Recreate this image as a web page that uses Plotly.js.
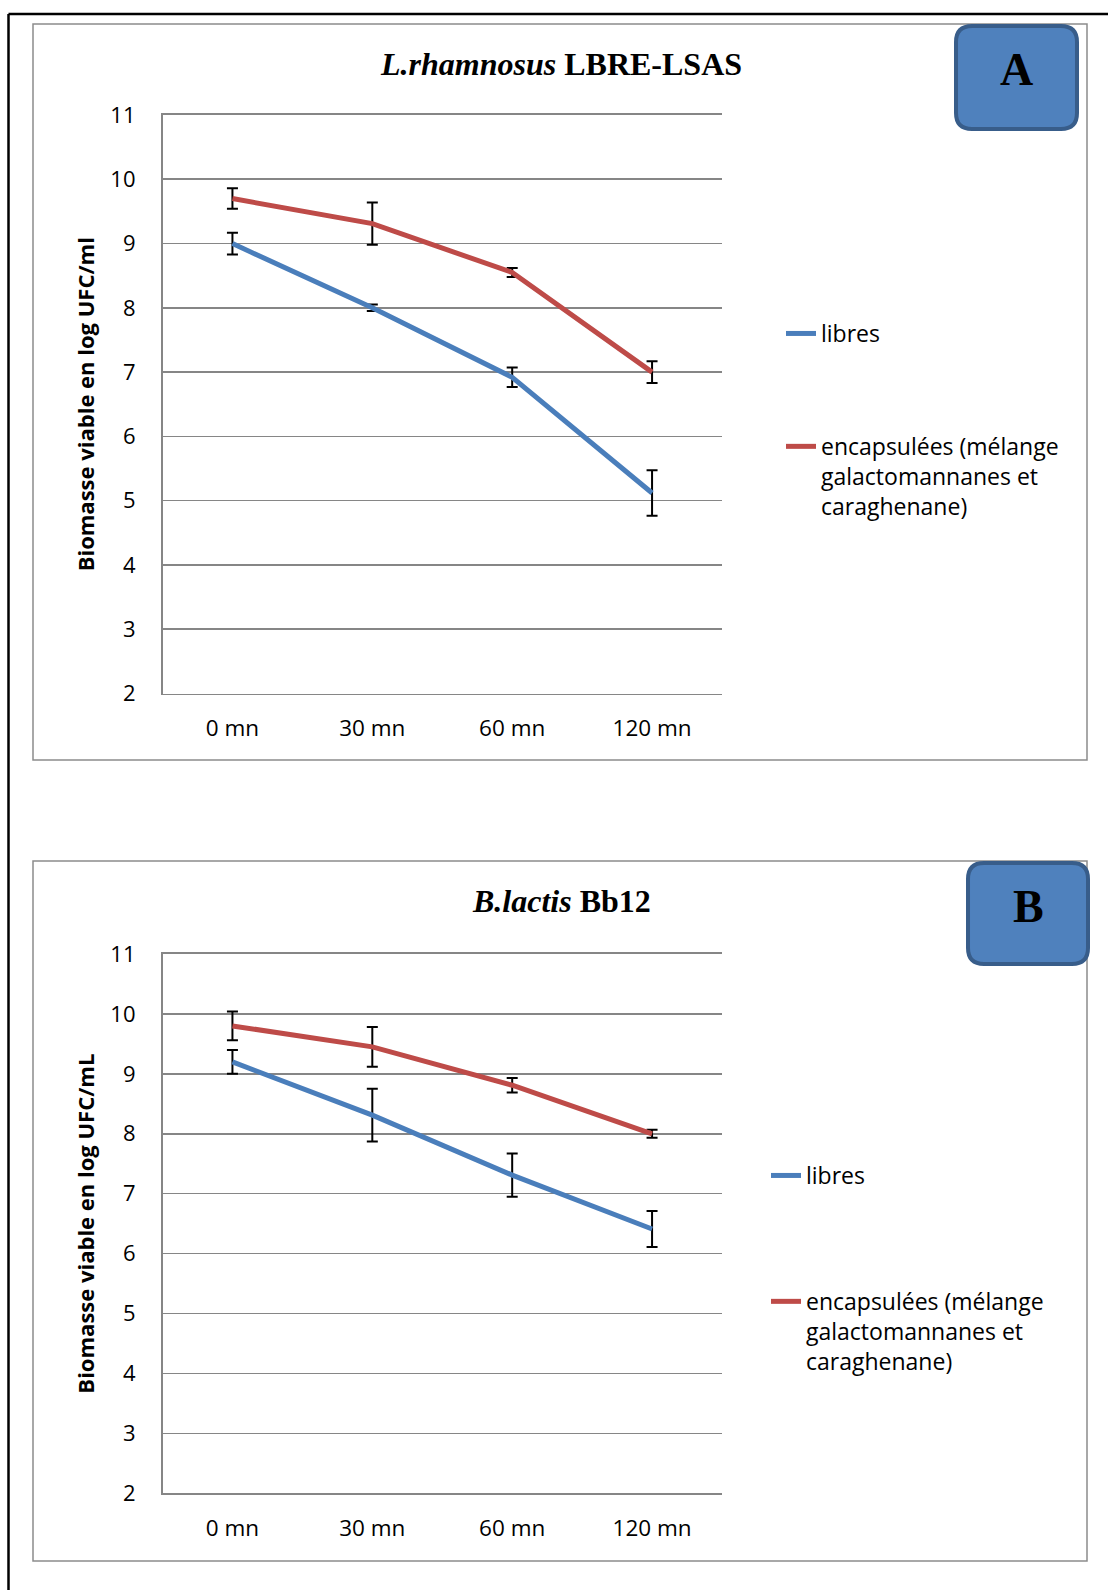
<!DOCTYPE html>
<html>
<head>
<meta charset="utf-8">
<script src="https://cdn.plot.ly/plotly-3.0.1.min.js"></script>
<style>
  html, body { margin: 0; padding: 0; background: #fff; }
  #chart { width: 1108px; height: 1590px; }
</style>
</head>
<body>
<div id="chart"></div>
<script>
// ---- data ----
const categories = ['0 mn', '30 mn', '60 mn', '120 mn'];
const yTicks = [2, 3, 4, 5, 6, 7, 8, 9, 10, 11];

const seriesNames = ['libres', 'encapsulées (mélange<br>galactomannanes et<br>caraghenane)'];

const rhamnosusLibres = [9.0, 8.0, 6.92, 5.12];
const rhamnosusLibresErr = [0.17, 0.05, 0.15, 0.355];
const rhamnosusEncaps = [9.70, 9.31, 8.55, 7.0];
const rhamnosusEncapsErr = [0.16, 0.33, 0.07, 0.17];

const lactisLibres = [9.20, 8.31, 7.31, 6.41];
const lactisLibresErr = [0.20, 0.44, 0.36, 0.30];
const lactisEncaps = [9.80, 9.45, 8.81, 8.0];
const lactisEncapsErr = [0.24, 0.33, 0.12, 0.065];

const titleA = '<i>L.rhamnosus</i> LBRE-LSAS';
const titleB = '<i>B.lactis</i> Bb12';
const yTitleA = 'Biomasse viable en log UFC/ml';
const yTitleB = 'Biomasse viable en log UFC/mL';

// ---- styling helpers ----
const W = 1108, H = 1590;
const px = x => x / W;
const py = y => 1 - y / H;
const BLUE = '#4A7EBB', RED = '#BE4B48', GRID = '#868686';
const SANS = '"Open Sans", "Noto Sans", sans-serif';
const SERIF = '"Liberation Serif", "DejaVu Serif", serif';

function errBar(arr) {
  return { type: 'data', array: arr, symmetric: true, visible: true, color: '#000', thickness: 2, width: 5.5 };
}
function tr(x, y, err, name, color, xa, ya, legend, group) {
  return {
    type: 'scatter', mode: 'lines', x: x, y: y, name: name,
    xaxis: xa, yaxis: ya, legend: legend, legendgroup: group,
    line: { color: color, width: 5 },
    error_y: errBar(err), hoverinfo: 'skip'
  };
}

const data = [
  tr(categories, rhamnosusLibres, rhamnosusLibresErr, seriesNames[0], BLUE, 'x', 'y', 'legend', 'a1'),
  tr(categories, rhamnosusEncaps, rhamnosusEncapsErr, seriesNames[1], RED, 'x', 'y', 'legend', 'a2'),
  tr(categories, lactisLibres, lactisLibresErr, seriesNames[0], BLUE, 'x2', 'y2', 'legend2', 'b1'),
  tr(categories, lactisEncaps, lactisEncapsErr, seriesNames[1], RED, 'x2', 'y2', 'legend2', 'b2')
];

function xAxis(anchor, domain) {
  return {
    domain: domain, anchor: anchor, type: 'category',
    range: [-0.5, categories.length - 0.5],
    showgrid: false, zeroline: false,
    showline: true, mirror: true, linecolor: GRID, linewidth: 1.6,
    ticks: '', ticklabelstandoff: 14,
    tickfont: { family: SANS, size: 22.5, color: '#000' },
    fixedrange: true
  };
}
function yAxis(anchor, domain, title) {
  return {
    domain: domain, anchor: anchor, range: [2, 11],
    tickvals: yTicks, ticktext: yTicks.map(String),
    showgrid: true, gridcolor: GRID, gridwidth: 1.6,
    zeroline: false, showline: true, linecolor: GRID, linewidth: 1.6,
    ticks: '', ticklabelstandoff: 21,
    tickfont: { family: SANS, size: 22, color: '#000' },
    title: { text: title, standoff: 9, font: { family: SANS, size: 22, color: '#000', weight: 'bold' } },
    fixedrange: true
  };
}

function roundRect(x0, y0, x1, y1, r) {
  const P = (x, y) => px(x).toFixed(5) + ',' + py(y).toFixed(5);
  return 'M' + P(x0 + r, y0) + ' L' + P(x1 - r, y0) + ' Q' + P(x1, y0) + ' ' + P(x1, y0 + r) +
    ' L' + P(x1, y1 - r) + ' Q' + P(x1, y1) + ' ' + P(x1 - r, y1) +
    ' L' + P(x0 + r, y1) + ' Q' + P(x0, y1) + ' ' + P(x0, y1 - r) +
    ' L' + P(x0, y0 + r) + ' Q' + P(x0, y0) + ' ' + P(x0 + r, y0) + ' Z';
}

const shapes = [
  // outer page border
  { type: 'line', xref: 'paper', yref: 'paper', x0: px(8.5), x1: px(1108), y0: py(14), y1: py(14), line: { color: '#000', width: 2.5 } },
  { type: 'line', xref: 'paper', yref: 'paper', x0: px(8.5), x1: px(8.5), y0: py(14), y1: py(1590), line: { color: '#000', width: 2.5 } },
  // chart frames
  { type: 'rect', xref: 'paper', yref: 'paper', x0: px(33), x1: px(1087), y0: py(24), y1: py(760), line: { color: '#8C8C8C', width: 1.5 }, layer: 'below' },
  { type: 'rect', xref: 'paper', yref: 'paper', x0: px(33), x1: px(1087), y0: py(861), y1: py(1561), line: { color: '#8C8C8C', width: 1.5 }, layer: 'below' },
  // label boxes
  { type: 'path', xref: 'paper', yref: 'paper', path: roundRect(956, 26, 1077, 129, 16), fillcolor: '#4F81BD', line: { color: '#385D8A', width: 4 } },
  { type: 'path', xref: 'paper', yref: 'paper', path: roundRect(968, 863, 1088, 964, 16), fillcolor: '#4F81BD', line: { color: '#385D8A', width: 4 } }
];

const annotations = [
  { text: titleA, xref: 'paper', yref: 'paper', x: px(561), y: py(64), xanchor: 'center', yanchor: 'middle', showarrow: false,
    font: { family: SERIF, size: 32, color: '#000', weight: 'bold' } },
  { text: titleB, xref: 'paper', yref: 'paper', x: px(561), y: py(901), xanchor: 'center', yanchor: 'middle', showarrow: false,
    font: { family: SERIF, size: 32, color: '#000', weight: 'bold' } },
  { text: 'A', xref: 'paper', yref: 'paper', x: px(1016), y: py(70), xanchor: 'center', yanchor: 'middle', showarrow: false,
    font: { family: SERIF, size: 46, color: '#000', weight: 'bold' } },
  { text: 'B', xref: 'paper', yref: 'paper', x: px(1028), y: py(906), xanchor: 'center', yanchor: 'middle', showarrow: false,
    font: { family: SERIF, size: 46, color: '#000', weight: 'bold' } }
];

const legendBase = {
  xanchor: 'left', yanchor: 'top', bgcolor: 'rgba(0,0,0,0)', borderwidth: 0,
  font: { family: SANS, size: 23, color: '#000' },
  traceorder: 'grouped', valign: 'top', itemclick: false, itemdoubleclick: false
};

const layout = {
  width: W, height: H,
  margin: { l: 0, r: 0, t: 0, b: 0 },
  paper_bgcolor: '#fff', plot_bgcolor: 'rgba(0,0,0,0)',
  showlegend: true,
  xaxis: xAxis('y', [px(162.5), px(722)]),
  yaxis: yAxis('x', [py(693.5), py(115)], yTitleA),
  xaxis2: xAxis('y2', [px(162.5), px(722)]),
  yaxis2: yAxis('x2', [py(1493.3), py(954)], yTitleB),
  legend: Object.assign({}, legendBase, { x: px(781), y: py(312), tracegroupgap: 80 }),
  legend2: Object.assign({}, legendBase, { x: px(766), y: py(1154), tracegroupgap: 93 }),
  shapes: shapes,
  annotations: annotations
};

Plotly.newPlot('chart', data, layout, { displayModeBar: false, staticPlot: true });
</script>
</body>
</html>
